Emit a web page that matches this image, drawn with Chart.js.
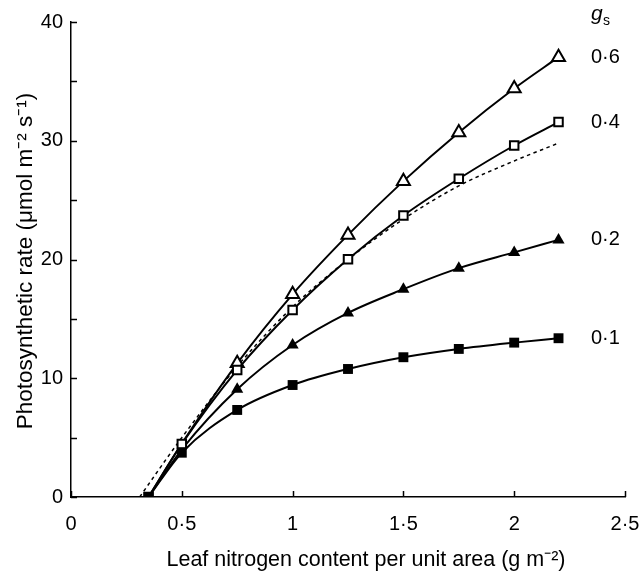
<!DOCTYPE html>
<html>
<head>
<meta charset="utf-8">
<script src="https://cdn.jsdelivr.net/npm/chart.js@4"></script>
<style>
  body { margin: 0; background: #fff; }
  canvas { display: block; }
</style>
</head>
<body>
<canvas id="myChart" width="640" height="574"></canvas>
<script>
// leaf N (g m-2) and photosynthetic rate for each stomatal conductance
var nitrogen = [0.35, 0.5, 0.75, 1, 1.25, 1.5, 1.75, 2, 2.2];
var gs01 = [0, 3.73, 7.33, 9.43, 10.78, 11.77, 12.47, 13.0, 13.37];
var gs02 = [0, 4.0, 9.07, 12.8, 15.5, 17.5, 19.27, 20.6, 21.65];
var gs04 = [0, 4.46, 10.7, 15.75, 20.02, 23.7, 26.8, 29.6, 31.57];
var gs06 = [0, 4.5, 11.26, 17.07, 22.07, 26.6, 30.7, 34.4, 37.04];
// dashed reference curve
var dashedX = [0.31, 0.4, 0.5, 0.75, 1, 1.25, 1.5, 1.75, 2, 2.2];
var dashedY = [0, 2.4, 5.0, 11.0, 16.0, 20.0, 23.4, 26.2, 28.3, 29.8];
var seriesLabels = ['0·1', '0·2', '0·4', '0·6'];
var xTicks = [0, 0.5, 1, 1.5, 2, 2.5];
var yMinor = [5, 15, 25, 35];
var xTitle = 'Leaf nitrogen content per unit area (g m⁻²)';
var yTitle = 'Photosynthetic rate (μmol m⁻² s⁻¹)';

function pts(xs, ys) {
    return xs.map(function (x, i) { return {x: x, y: ys[i]}; });
}
function fmt(v) {
    return String(v).replace('.', '·');
}

var FONT = 'Liberation Sans';

var decor = {
    id: 'decor',
    afterDraw: function (chart) {
        var c = chart.ctx, xs = chart.scales.x, ys = chart.scales.y;
        var a = chart.chartArea;
        c.save();
        c.strokeStyle = '#000';
        c.lineWidth = 1.5;
        // inward ticks
        xTicks.forEach(function (v) {
            var px = Math.round(xs.getPixelForValue(v)) + 0.5;
            c.beginPath(); c.moveTo(px, a.bottom); c.lineTo(px, a.bottom - 6); c.stroke();
        });
        ys.ticks.map(function (t) { return t.value; }).concat(yMinor).forEach(function (v) {
            var py = Math.round(ys.getPixelForValue(v)) + 0.5;
            c.beginPath(); c.moveTo(a.left, py); c.lineTo(a.left + 6, py); c.stroke();
        });
        c.fillStyle = '#000';
        c.textBaseline = 'middle';
        // axis titles
        c.textAlign = 'center';
        c.font = '21.5px "' + FONT + '"';
        c.fillText(xTitle, 366, 560);
        c.save();
        c.translate(26, 261);
        c.rotate(-Math.PI / 2);
        c.font = '22.5px "' + FONT + '"';
        c.fillText(yTitle, 0, 0);
        c.restore();
        // series labels at the right end
        c.textAlign = 'left';
        c.font = '20px "' + FONT + '"';
        var ends = [gs01, gs02, gs04, gs06];
        ends.forEach(function (arr, i) {
            c.fillText(seriesLabels[i], 591, ys.getPixelForValue(arr[arr.length - 1]));
        });
        c.font = 'italic 21px "' + FONT + '"';
        c.fillText('g', 591, 14);
        c.font = '14px "' + FONT + '"';
        c.fillText('s', 603, 21);
        c.restore();
    }
};

var common = {
    showLine: true,
    borderColor: '#000',
    borderWidth: 2,
    tension: 0.4,
    cubicInterpolationMode: 'monotone',
    pointBorderColor: '#000',
    pointBorderWidth: 2
};

var ctx = document.getElementById('myChart').getContext('2d');
var myChart = new Chart(ctx, {
    type: 'scatter',
    data: {
        datasets: [
            Object.assign({}, common, {
                label: seriesLabels[0], data: pts(nitrogen, gs01),
                pointStyle: 'rect', pointRadius: 7, pointBackgroundColor: '#000', pointBorderWidth: 0
            }),
            Object.assign({}, common, {
                label: seriesLabels[2], data: pts(nitrogen, gs04),
                pointStyle: 'rect', pointRadius: 6, pointBackgroundColor: '#fff'
            }),
            Object.assign({}, common, {
                label: seriesLabels[1], data: pts(nitrogen, gs02),
                pointStyle: 'triangle', pointRadius: [0, 0, 7, 7, 7, 7, 7, 7, 7],
                pointBackgroundColor: '#000', pointBorderWidth: 0
            }),
            Object.assign({}, common, {
                label: seriesLabels[3], data: pts(nitrogen, gs06),
                pointStyle: 'triangle', pointRadius: [0, 0, 7.5, 7.5, 7.5, 7.5, 7.5, 7.5, 7.5],
                pointBackgroundColor: '#fff'
            }),
            Object.assign({}, common, {
                label: 'fit', data: pts(dashedX, dashedY),
                borderWidth: 1.5, borderDash: [3.5, 3.5], pointRadius: 0
            })
        ]
    },
    options: {
        responsive: false,
        animation: false,
        layout: { padding: { left: 0, right: 15, top: 22, bottom: 0 } },
        plugins: { legend: { display: false }, tooltip: { enabled: false } },
        scales: {
            x: {
                type: 'linear', min: 0, max: 2.5,
                afterFit: function (s) { s.height = 77; s.paddingLeft = 0; s.paddingRight = 0; },
                afterBuildTicks: function (s) { s.ticks = xTicks.map(function (v) { return {value: v}; }); },
                grid: { drawOnChartArea: false, drawTicks: false },
                border: { color: '#000', width: 1.5 },
                ticks: {
                    color: '#000', padding: 15, maxRotation: 0,
                    font: { family: FONT, size: 20 },
                    callback: function (v) { return fmt(v); }
                }
            },
            y: {
                min: 0, max: 40,
                afterFit: function (s) { s.width = 71; s.paddingTop = 0; s.paddingBottom = 0; },
                grid: { drawOnChartArea: false, drawTicks: false },
                border: { color: '#000', width: 1.5 },
                ticks: {
                    color: '#000', stepSize: 10, padding: 8,
                    font: { family: FONT, size: 20 }
                }
            }
        }
    },
    plugins: [decor]
});
</script>
</body>
</html>
